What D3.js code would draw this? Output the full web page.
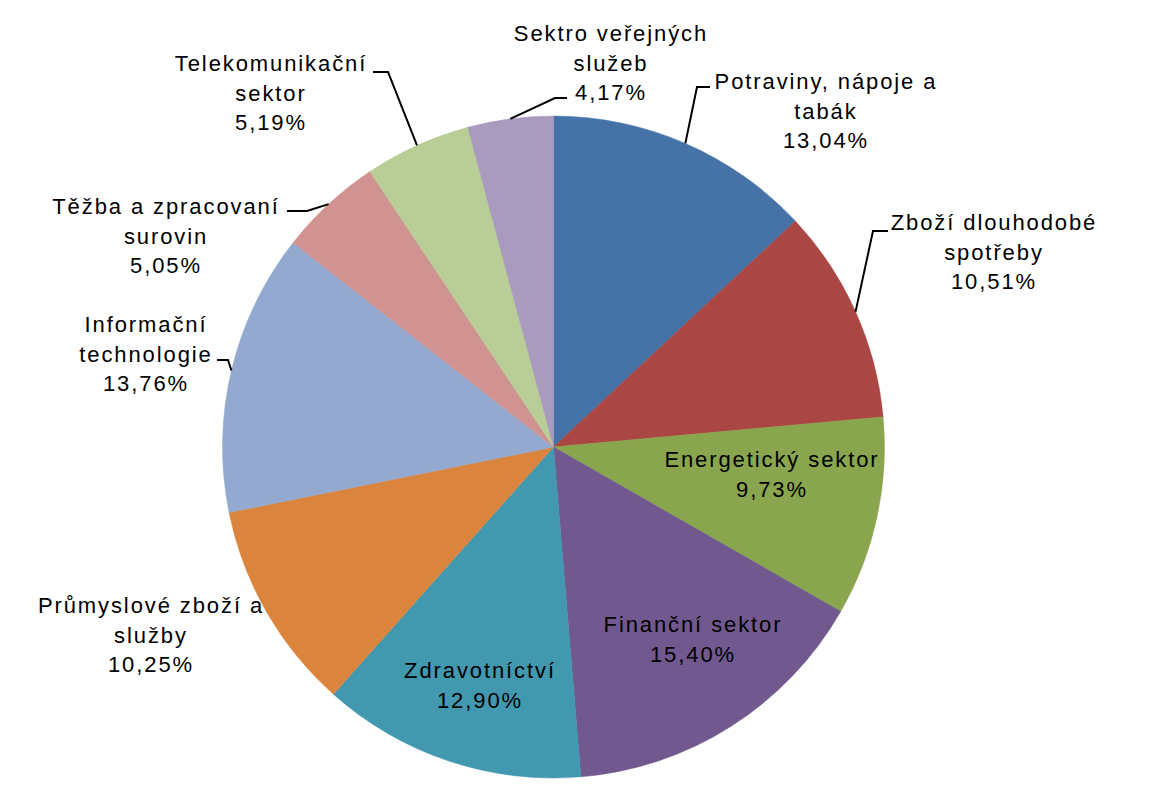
<!DOCTYPE html>
<html><head><meta charset="utf-8">
<script src="https://cdn.jsdelivr.net/npm/d3@7"></script>
<style>body{margin:0;background:#fff}text{font-family:"Liberation Sans",Arial,sans-serif}</style>
</head><body>
<svg id="c" width="1156" height="805"></svg>
<script>
const categories = [
  ["Potraviny, nápoje a", "tabák"],
  ["Zboží dlouhodobé", "spotřeby"],
  ["Energetický sektor"],
  ["Finanční sektor"],
  ["Zdravotníctví"],
  ["Průmyslové zboží a", "služby"],
  ["Informační", "technologie"],
  ["Těžba a zpracovaní", "surovin"],
  ["Telekomunikační", "sektor"],
  ["Sektro veřejných", "služeb"]
];
const values = [13.04, 10.51, 9.73, 15.40, 12.90, 10.25, 13.76, 5.05, 5.19, 4.17];
const colors = ["#4572A7","#AA4643","#89A54E","#71588F","#4198AF","#DB843D","#93A9CF","#D19392","#B9CD96","#A99BBD"];

// layout: label centre x and first baseline y; leader elbow/end (null = no leader)
const labelLayout = [
  {x:825, y:89,  leader:[[697,87],[710,87]]},
  {x:993, y:230, leader:[[873,231],[888,231]]},
  {x:771, y:467, leader:null},
  {x:692, y:632, leader:null},
  {x:479, y:678, leader:null},
  {x:150, y:613, leader:null},
  {x:145, y:332, leader:[[228,360],[217,360]]},
  {x:165, y:214, leader:[[307,211],[287,211]]},
  {x:270, y:71,  leader:[[388,72],[373,72]]},
  {x:610, y:41,  leader:[[555,98],[567,98]]}
];

const svg = d3.select("#c");
const cx = 553.5, cy = 447, r = 331;
const g = svg.append("g").attr("transform", `translate(${cx},${cy})`);
const pie = d3.pie().sort(null).value(d => d)(values);
const arc = d3.arc().innerRadius(0).outerRadius(r);

g.selectAll("path.s").data(pie).enter().append("path")
  .attr("class","s").attr("d", arc)
  .attr("fill", (d,i) => colors[i]).attr("stroke", (d,i)=>colors[i]).attr("stroke-width",0.5);

const fmt = v => v.toFixed(2).replace(".", ",") + "%";
const lh = 29.5;

pie.forEach((d,i) => {
  const L = labelLayout[i];
  if (L.leader) {
    const a = (d.startAngle + d.endAngle)/2;
    const p0 = [cx + r*Math.sin(a), cy - r*Math.cos(a)];
    const pts = [p0, ...L.leader];
    svg.append("path").attr("d", d3.line()(pts))
      .attr("fill","none").attr("stroke","#000").attr("stroke-width",2);
  }
  const lines = [...categories[i], fmt(values[i])];
  const t = svg.append("text").attr("text-anchor","middle").attr("font-size",22)
    .attr("letter-spacing","1.9px").attr("fill","#000");
  lines.forEach((s,k) => t.append("tspan").attr("x", L.x + 1).attr("y", L.y + k*lh).text(s));
});
</script>
</body></html>
